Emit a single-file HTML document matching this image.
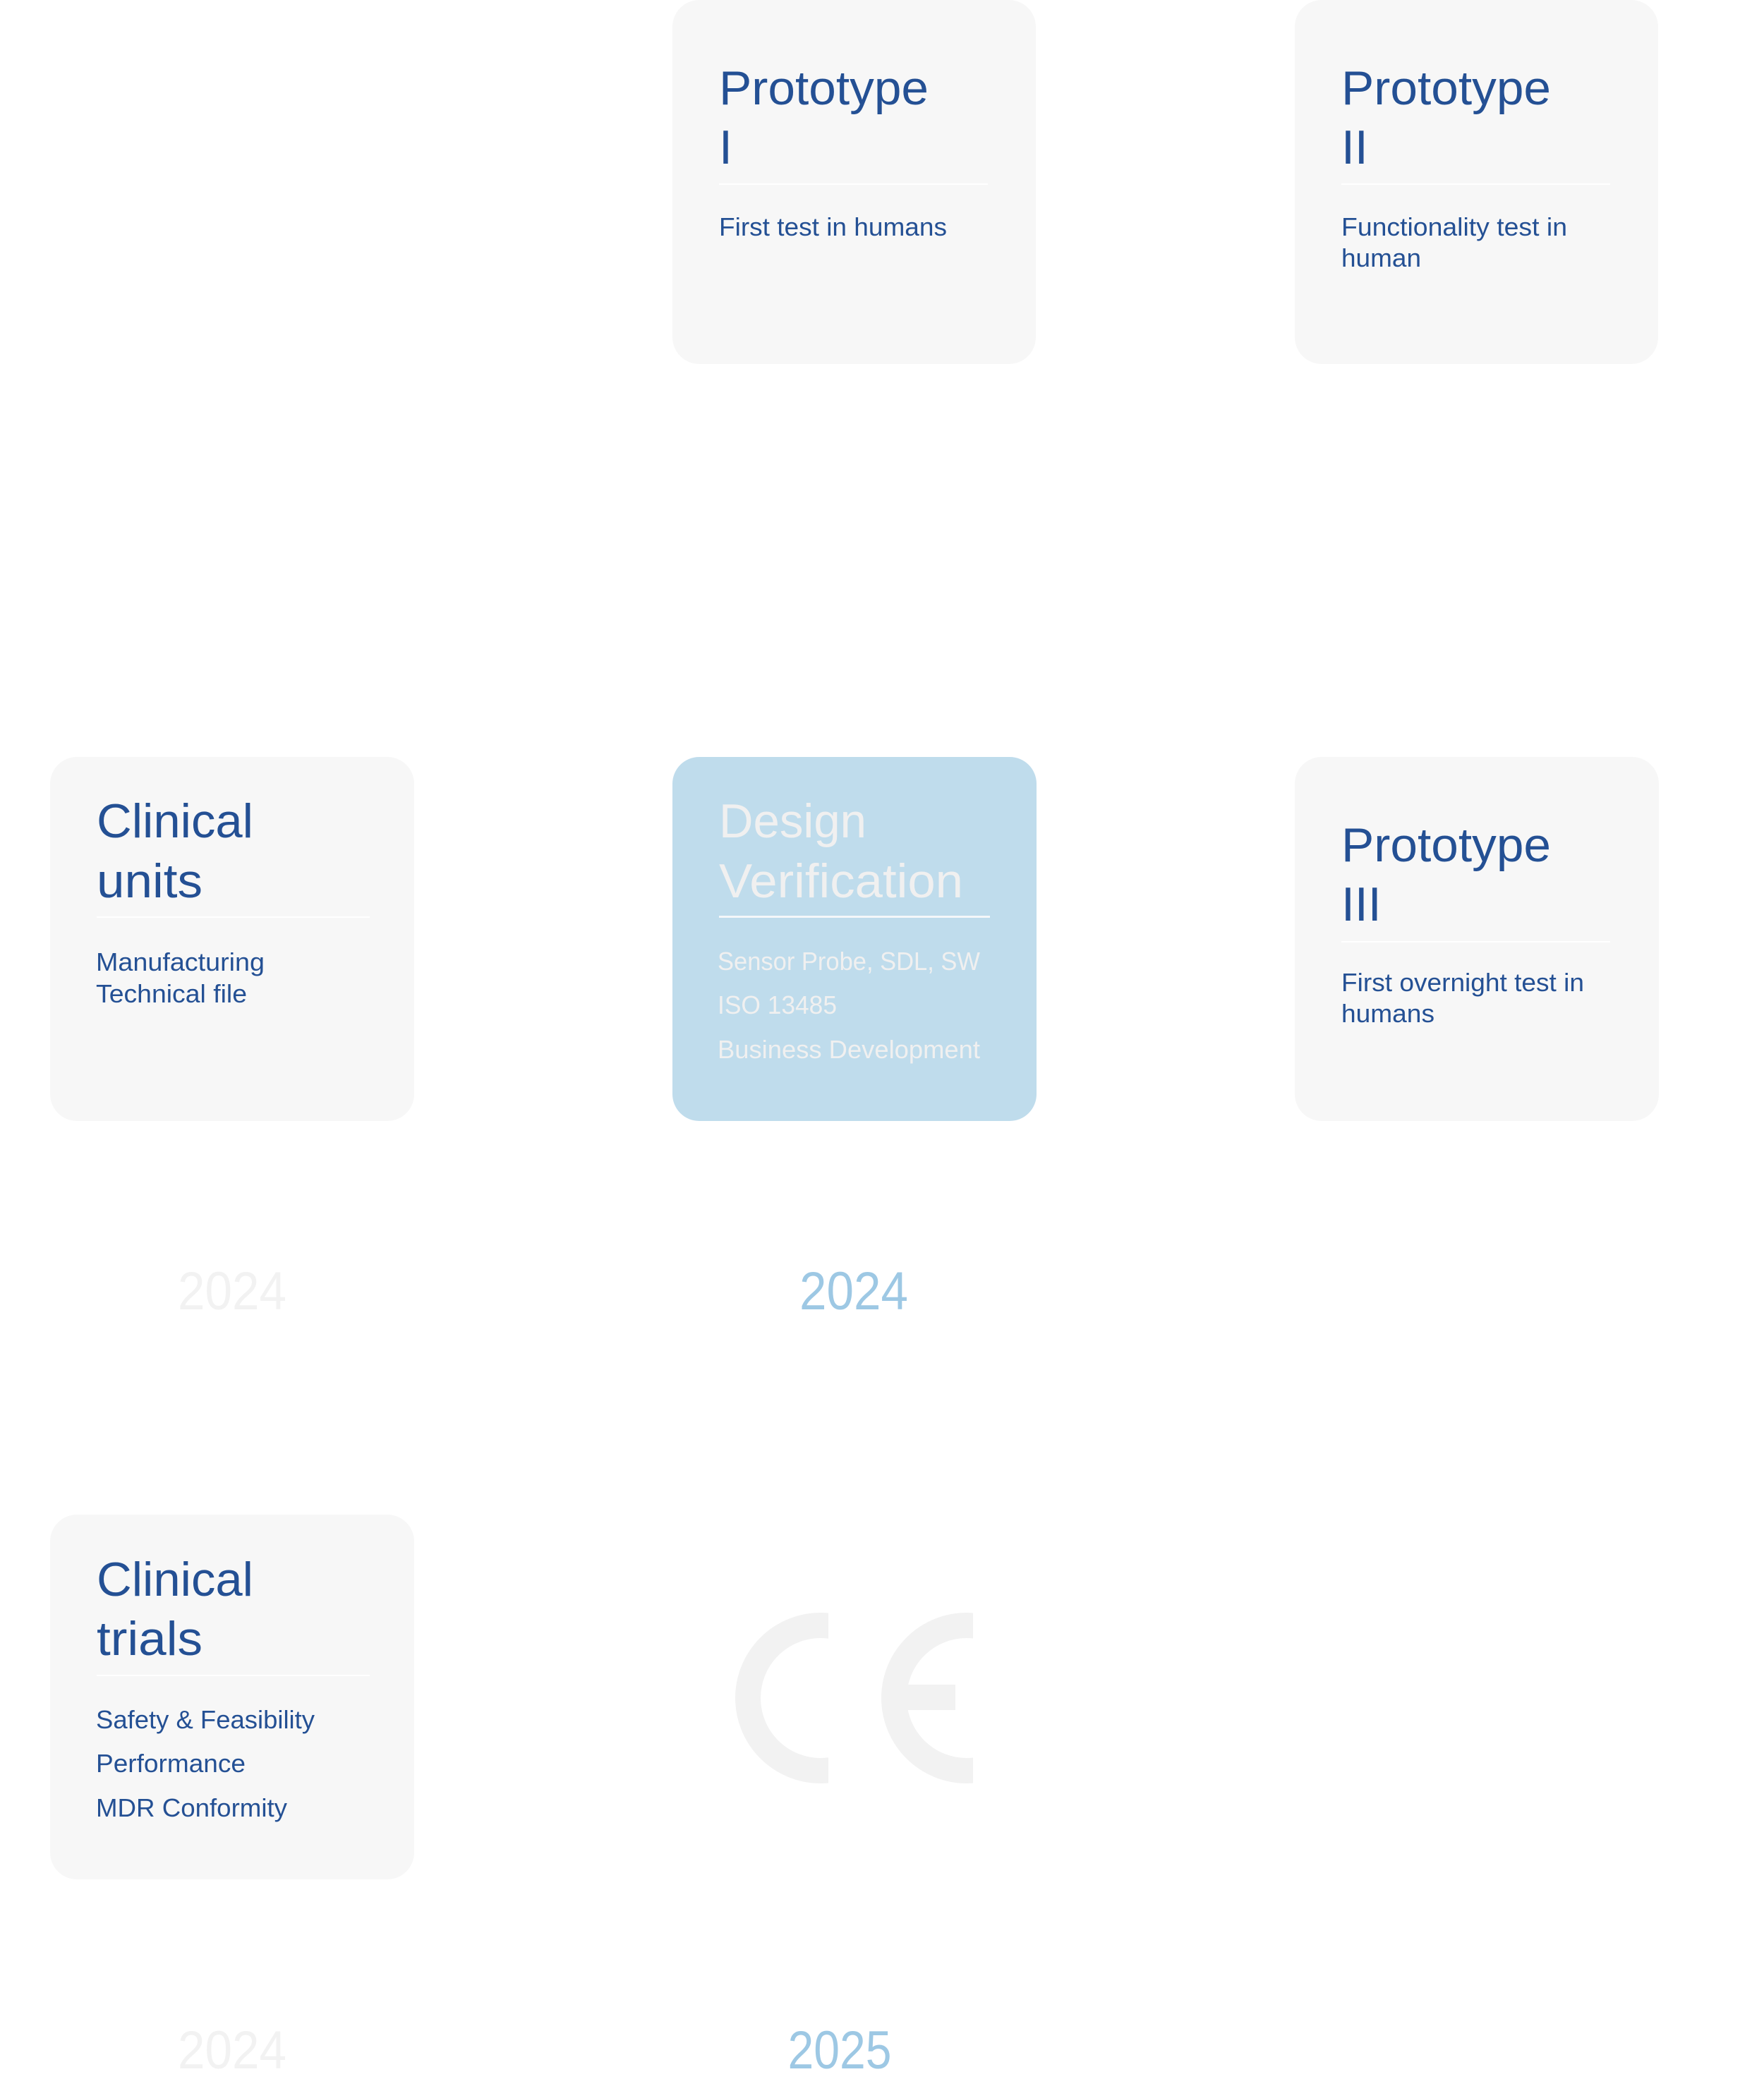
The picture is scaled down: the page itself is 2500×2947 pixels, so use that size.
<!DOCTYPE html>
<html><head><meta charset="utf-8"><style>
html,body{margin:0;padding:0;background:#fff;width:2500px;height:2947px;overflow:hidden}
svg{display:block}
.t{font-family:"Liberation Sans",sans-serif;font-size:68px;fill:#245094}
.d{font-family:"Liberation Sans",sans-serif;font-size:36px;fill:#245094}
.w{fill:#f0f0f0}
.y{font-family:"Liberation Sans",sans-serif;font-size:76px}
</style></head><body>
<svg width="2500" height="2947" viewBox="0 0 2500 2947" xmlns="http://www.w3.org/2000/svg">
<defs>
<clipPath id="cc"><rect x="0" y="2200" width="1174" height="400"/></clipPath>
<clipPath id="ce"><rect x="1194" y="2200" width="185" height="400"/></clipPath>
</defs>
<rect x="953" y="0" width="515" height="516" rx="38" fill="#f7f7f7"/>
<text class="t" x="1019" y="148" textLength="297" lengthAdjust="spacingAndGlyphs">Prototype</text>
<text class="t" x="1019" y="232">I</text>
<rect x="1019" y="260" width="381" height="2" fill="#fff"/>
<text class="d" x="1019" y="334" textLength="323" lengthAdjust="spacingAndGlyphs">First test in humans</text>
<rect x="1835" y="0" width="515" height="516" rx="38" fill="#f7f7f7"/>
<text class="t" x="1901" y="148" textLength="297" lengthAdjust="spacingAndGlyphs">Prototype</text>
<text class="t" x="1901" y="232">II</text>
<rect x="1901" y="260" width="381" height="2" fill="#fff"/>
<text class="d" x="1901" y="334" textLength="320" lengthAdjust="spacingAndGlyphs">Functionality test in</text>
<text class="d" x="1901" y="378" textLength="113" lengthAdjust="spacingAndGlyphs">human</text>
<rect x="71" y="1073" width="516" height="516" rx="38" fill="#f7f7f7"/>
<text class="t" x="137" y="1187" textLength="222" lengthAdjust="spacingAndGlyphs">Clinical</text>
<text class="t" x="137" y="1272" textLength="150" lengthAdjust="spacingAndGlyphs">units</text>
<rect x="137" y="1299" width="387" height="2" fill="#fff"/>
<text class="d" x="136" y="1376" textLength="239" lengthAdjust="spacingAndGlyphs">Manufacturing</text>
<text class="d" x="136" y="1421" textLength="214" lengthAdjust="spacingAndGlyphs">Technical file</text>
<rect x="953" y="1073" width="516" height="516" rx="38" fill="#bfdcec"/>
<text class="t w" x="1019" y="1187" textLength="209" lengthAdjust="spacingAndGlyphs">Design</text>
<text class="t w" x="1019" y="1272" textLength="346" lengthAdjust="spacingAndGlyphs">Verification</text>
<rect x="1019" y="1298" width="384" height="3" fill="#f4f7f9"/>
<text class="d w" x="1017" y="1375" textLength="372" lengthAdjust="spacingAndGlyphs">Sensor Probe, SDL, SW</text>
<text class="d w" x="1017" y="1437" textLength="169" lengthAdjust="spacingAndGlyphs">ISO 13485</text>
<text class="d w" x="1017" y="1500" textLength="372" lengthAdjust="spacingAndGlyphs">Business Development</text>
<rect x="1835" y="1073" width="516" height="516" rx="38" fill="#f7f7f7"/>
<text class="t" x="1901" y="1221" textLength="297" lengthAdjust="spacingAndGlyphs">Prototype</text>
<text class="t" x="1901" y="1305">III</text>
<rect x="1901" y="1334" width="381" height="2" fill="#fff"/>
<text class="d" x="1901" y="1405" textLength="344" lengthAdjust="spacingAndGlyphs">First overnight test in</text>
<text class="d" x="1901" y="1449" textLength="132" lengthAdjust="spacingAndGlyphs">humans</text>
<text class="y" x="329" y="1856" text-anchor="middle" fill="#f2f2f2" textLength="154" lengthAdjust="spacingAndGlyphs">2024</text>
<text class="y" x="1210" y="1856" text-anchor="middle" fill="#9dc8e4" textLength="154" lengthAdjust="spacingAndGlyphs">2024</text>
<rect x="71" y="2147" width="516" height="517" rx="38" fill="#f7f7f7"/>
<text class="t" x="137" y="2262" textLength="222" lengthAdjust="spacingAndGlyphs">Clinical</text>
<text class="t" x="137" y="2346" textLength="150" lengthAdjust="spacingAndGlyphs">trials</text>
<rect x="137" y="2374" width="387" height="2" fill="#fff"/>
<text class="d" x="136" y="2450" textLength="310" lengthAdjust="spacingAndGlyphs">Safety &amp; Feasibility</text>
<text class="d" x="136" y="2512" textLength="212" lengthAdjust="spacingAndGlyphs">Performance</text>
<text class="d" x="136" y="2575" textLength="271" lengthAdjust="spacingAndGlyphs">MDR Conformity</text>
<circle cx="1163" cy="2407" r="103" fill="none" stroke="#f2f2f2" stroke-width="36" clip-path="url(#cc)"/>
<circle cx="1370" cy="2407" r="103" fill="none" stroke="#f2f2f2" stroke-width="36" clip-path="url(#ce)"/>
<rect x="1279" y="2388" width="75" height="36" fill="#f2f2f2"/>
<text class="y" x="329" y="2932" text-anchor="middle" fill="#f2f2f2" textLength="154" lengthAdjust="spacingAndGlyphs">2024</text>
<text class="y" x="1190" y="2932" text-anchor="middle" fill="#9dc8e4" textLength="147" lengthAdjust="spacingAndGlyphs">2025</text>
</svg>
</body></html>
